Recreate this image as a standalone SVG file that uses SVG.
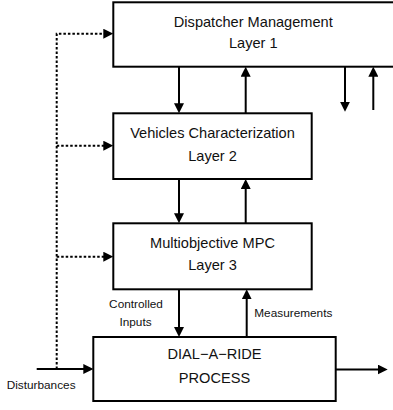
<svg xmlns="http://www.w3.org/2000/svg" width="393" height="410" viewBox="0 0 393 410">
<style>
.box{fill:#fff;stroke:#000;stroke-width:2}
.t{font-family:"Liberation Sans",Arial,Helvetica,sans-serif;font-size:14.6px;fill:#111;text-anchor:middle}
.s{font-family:"Liberation Sans",Arial,Helvetica,sans-serif;font-size:11.8px;fill:#111}
.c{stroke:#000;stroke-width:2;fill:none}
.d{stroke:#000;stroke-width:2;fill:none;stroke-dasharray:2.5 2}
</style>
<defs>
<marker id="ah" markerUnits="userSpaceOnUse" markerWidth="10" markerHeight="10" refX="5" refY="5" orient="auto">
<path d="M0,0 L10,5 L0,10 z" fill="#000"/>
</marker>
</defs>
<g id="node-dispatcher">
<rect class="box" x="113.3" y="2.3" width="290" height="64.4"/>
<text class="t" x="253.3" y="26.7">Dispatcher Management</text>
<text class="t" x="253.3" y="47.5">Layer 1</text>
</g>
<g id="node-vehicles">
<rect class="box" x="113.3" y="113.3" width="198.4" height="65.7"/>
<text class="t" x="212.5" y="138.3">Vehicles Characterization</text>
<text class="t" x="212.5" y="160.7">Layer 2</text>
</g>
<g id="node-mpc">
<rect class="box" x="113.3" y="223.3" width="198.4" height="66"/>
<text class="t" x="212.5" y="248.3">Multiobjective MPC</text>
<text class="t" x="212.5" y="270">Layer 3</text>
</g>
<g id="node-process">
<rect class="box" x="93.3" y="337" width="242.4" height="64"/>
<text class="t" x="214.5" y="359.3">DIAL−A−RIDE</text>
<text class="t" x="214.5" y="382.7">PROCESS</text>
</g>
<g id="connectors">
<line class="c" x1="179" y1="66.7" x2="179" y2="108.3" marker-end="url(#ah)"/>
<line class="c" x1="245.7" y1="113.3" x2="245.7" y2="71.7" marker-end="url(#ah)"/>
<line class="c" x1="345" y1="66.7" x2="345" y2="106.7" marker-end="url(#ah)"/>
<line class="c" x1="373.3" y1="110" x2="373.3" y2="71.7" marker-end="url(#ah)"/>
<line class="c" x1="179" y1="179" x2="179" y2="218.3" marker-end="url(#ah)"/>
<line class="c" x1="245.7" y1="223.3" x2="245.7" y2="184" marker-end="url(#ah)"/>
<line class="c" x1="179" y1="289.3" x2="179" y2="332" marker-end="url(#ah)"/>
<line class="c" x1="246.7" y1="337" x2="246.7" y2="294.3" marker-end="url(#ah)"/>
<line class="c" x1="335.7" y1="369.5" x2="382.7" y2="369.5" marker-end="url(#ah)"/>
<line class="c" x1="36.7" y1="369" x2="88.3" y2="369" marker-end="url(#ah)"/>
<polyline class="d" points="56.7,369 56.7,33.7 108.3,33.7" marker-end="url(#ah)"/>
<line class="d" x1="56.7" y1="145.7" x2="108.3" y2="145.7" marker-end="url(#ah)"/>
<line class="d" x1="56.7" y1="256.7" x2="108.3" y2="256.7" marker-end="url(#ah)"/>
<text class="s" x="136" y="308.3" text-anchor="middle">Controlled</text>
<text class="s" x="135.5" y="325.7" text-anchor="middle">Inputs</text>
<text class="s" x="254.3" y="316.7">Measurements</text>
<text class="s" x="6.7" y="389">Disturbances</text>
</g>
</svg>
